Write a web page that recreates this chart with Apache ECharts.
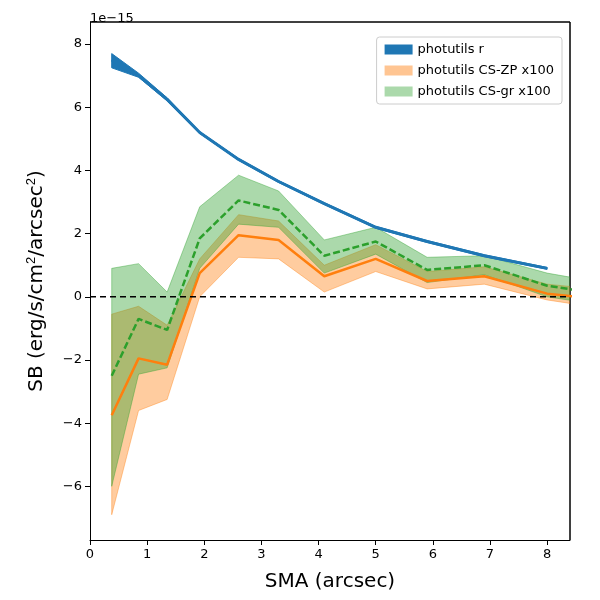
<!DOCTYPE html><html><head><meta charset="utf-8">
<script src="https://cdn.jsdelivr.net/npm/echarts@6/dist/echarts.min.js"></script>
<style>html,body{margin:0;padding:0;background:#fff}#c{width:600px;height:600px}</style></head>
<body><div id="c"></div><script>
const sma = [0.38,0.85,1.35,1.92,2.6,3.3,4.1,5.0,5.9,6.9,8.0,9.1];
const rLine = [7.5,7.0,6.25,5.2,4.35,3.65,2.95,2.2,1.75,1.3,0.9];
const rLow  = [7.25,6.95,6.2,5.17,4.32,3.62,2.92,2.17,1.72,1.27,0.87];
const rHigh = [7.7,7.08,6.3,5.23,4.38,3.68,2.98,2.23,1.78,1.33,0.93];
const zpLine = [-3.75,-1.95,-2.15,0.75,1.95,1.8,0.65,1.2,0.5,0.65,0.1,-0.1];
const zpLow  = [-6.9,-3.6,-3.25,0.0,1.25,1.2,0.15,0.8,0.25,0.4,-0.1,-0.4];
const zpHigh = [-0.55,-0.3,-0.9,1.2,2.6,2.4,1.0,1.65,0.8,0.95,0.4,0.2];
const grLine = [-2.5,-0.7,-1.05,1.85,3.05,2.75,1.3,1.75,0.85,1.0,0.35,0.05];
const grLow  = [-6.0,-2.45,-2.25,0.9,2.3,2.2,0.75,1.35,0.45,0.7,0.0,-0.3];
const grHigh = [0.9,1.05,0.15,2.85,3.85,3.35,1.8,2.2,1.25,1.3,0.75,0.4];
const xTicks=[0,1,2,3,4,5,6,7,8], yTicks=[-6,-4,-2,0,2,4,6,8];

function band(name,lo,hi,color,n){
  const pts=[];
  for(let i=0;i<n;i++)pts.push([sma[i],hi[i]]);
  for(let i=n-1;i>=0;i--)pts.push([sma[i],lo[i]]);
  return {type:'custom',name:name,data:[0],clip:true,z:1,itemStyle:{color:color},
    renderItem:(p,api)=>({type:'polygon',shape:{points:pts.map(q=>api.coord(q))},
      style:{fill:color,stroke:color,lineWidth:1}})};
}
const pair=a=>a.map((v,i)=>[sma[i],v]);
const ch=echarts.init(document.getElementById('c'));
ch.setOption({animation:false,
 grid:{left:90,right:30,top:22,bottom:60},
 xAxis:{type:'value',min:0,max:8.4,name:'SMA (arcsec)',nameLocation:'middle',nameGap:32,
   nameTextStyle:{fontSize:20,color:'#000',fontFamily:'DejaVu Sans'},
   splitLine:{show:false},axisLine:{onZero:false,lineStyle:{color:'#000'}},
   axisTick:{show:true,customValues:xTicks,lineStyle:{color:'#000'}},
   axisLabel:{customValues:xTicks,color:'#000',fontSize:13,fontFamily:'DejaVu Sans'}},
 yAxis:{type:'value',min:-7.7,max:8.7,
   name:'{a|SB (erg/s/cm}{s|2}{a|/arcsec}{s|2}{a|)}',nameLocation:'middle',nameGap:42,
   nameTextStyle:{rich:{a:{fontSize:20,color:'#000',fontFamily:'DejaVu Sans'},s:{fontSize:13,color:'#000',verticalAlign:'top',padding:[0,0,10,0]}}},
   splitLine:{show:false},axisLine:{show:true,onZero:false,lineStyle:{color:'#000'}},
   axisTick:{show:true,customValues:yTicks,lineStyle:{color:'#000'}},
   axisLabel:{customValues:yTicks,color:'#000',fontSize:13,fontFamily:'DejaVu Sans',formatter:v=>v<0?'\u2212'+(-v):''+v}},
 graphic:[{type:'text',left:90,top:12,style:{text:'1e\u221215',fontSize:13,fill:'#000',fontFamily:'DejaVu Sans'}},
   {type:'rect',shape:{x:570,y:22,width:0,height:518},style:{stroke:'#000',lineWidth:1}},
   {type:'rect',shape:{x:90,y:22,width:480,height:0},style:{stroke:'#000',lineWidth:1}}],
 legend:{right:38,top:37,orient:'vertical',itemWidth:28,itemHeight:10,itemGap:8,
   backgroundColor:'#fff',borderColor:'#ccc',borderWidth:1,borderRadius:3,padding:[6,8],
   textStyle:{fontSize:13,color:'#000',fontFamily:'DejaVu Sans'},
   data:[{name:'photutils r',icon:'rect',itemStyle:{color:'#1f77b4'}},
     {name:'photutils CS-ZP x100',icon:'rect',itemStyle:{color:'rgba(255,127,14,0.45)',borderColor:'rgba(255,127,14,0.6)'}},
     {name:'photutils CS-gr x100',icon:'rect',itemStyle:{color:'rgba(44,160,44,0.4)',borderColor:'rgba(44,160,44,0.6)'}}]},
 series:[
  band('photutils CS-ZP x100',zpLow,zpHigh,'rgba(255,127,14,0.4)',12),
  band('photutils CS-gr x100',grLow,grHigh,'rgba(44,160,44,0.4)',12),
  band('photutils r',rLow,rHigh,'#1f77b4',11),
  {type:'line',data:pair(rLine),symbol:'none',lineStyle:{color:'#1f77b4',width:3},z:3,tooltip:{show:false}},
  {type:'line',data:pair(zpLine),symbol:'none',lineStyle:{color:'#ff7f0e',width:2.5},z:4},
  {type:'line',data:pair(grLine),symbol:'none',lineStyle:{color:'#2ca02c',width:2.5,type:[7,3]},z:4},
  {type:'line',data:[[0,0],[8.4,0]],symbol:'none',lineStyle:{color:'#000',width:1.6,type:[6,4]},z:5}
 ]});
</script></body></html>
